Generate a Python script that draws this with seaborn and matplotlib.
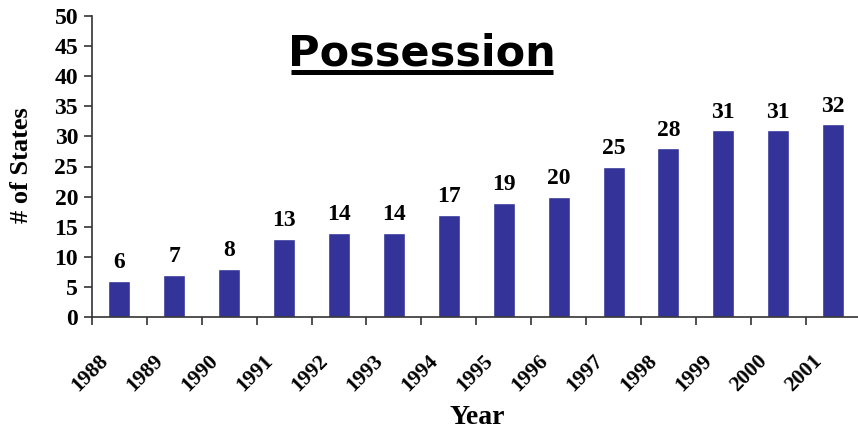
import matplotlib
matplotlib.use("Agg")
import matplotlib.pyplot as plt
import seaborn as sns
import pandas as pd
import numpy as np

years = ["1988", "1989", "1990", "1991", "1992", "1993", "1994",
         "1995", "1996", "1997", "1998", "1999", "2000", "2001"]
states = [6, 7, 8, 13, 14, 14, 17, 19, 20, 25, 28, 31, 31, 32]
yticks = [0, 5, 10, 15, 20, 25, 30, 35, 40, 45, 50]

sns.set_style("white")
plt.rcParams['font.family'] = ['Liberation Serif', 'DejaVu Serif']
plt.rcParams['text.color'] = 'black'
plt.rcParams['axes.labelcolor'] = 'black'
plt.rcParams['xtick.color'] = 'black'
plt.rcParams['ytick.color'] = 'black'

df = pd.DataFrame({"Year": years, "States": states})

fig = plt.figure(figsize=(8.58, 4.34), dpi=100)

ax = fig.add_axes([92/858, 1 - 317/434, (858-92)/858, (317-16)/434])

sns.barplot(data=df, x="Year", y="States", color="#333399", saturation=1,
            width=0.4, ax=ax)

ax.set_ylim(0, 50)
ax.set_xlim(-0.5, -0.5 + (858 - 92) / 54.9)
ax.set_yticks(yticks)
ax.set_yticklabels([str(v) for v in yticks], fontsize=17, fontweight='bold')
ax.tick_params(axis='y', direction='out', length=6, width=1.2, color='#333333', pad=4, left=True)

n = len(years)
ax.set_xticks(np.arange(n) - 0.5)
ax.set_xticklabels([])
ax.tick_params(axis='x', direction='out', length=6, width=1.2, color='#333333', bottom=True)
for i, yr in enumerate(years):
    ax.text(i - 0.38, -5.6, yr, rotation=45, ha='right', va='top',
            rotation_mode='anchor', fontsize=15.5, fontweight='bold')

for i, v in enumerate(states):
    ax.text(i, v + 1.3, str(v), ha='center', va='bottom', fontsize=17, fontweight='bold')

for s in ['top', 'right']:
    ax.spines[s].set_visible(False)
for s in ['left', 'bottom']:
    ax.spines[s].set_color('#333333')
    ax.spines[s].set_linewidth(1.2)

ax.set_xlabel("")
ax.set_ylabel("")
fig.text(22/858, 1 - 165/434, "# of States", rotation=90, ha='center', va='center',
         fontsize=19, fontweight='bold')
fig.text(477/858, 1 - 418/434, "Year", ha='center', va='center',
         fontsize=20, fontweight='bold')

fig.text(422/858, 1 - 65/434, "Possession", ha='center', va='baseline',
         fontsize=31, fontweight='bold', family='DejaVu Sans')
fig.add_artist(plt.Line2D([291/858, 553/858], [1 - 71.5/434, 1 - 71.5/434],
                          color='black', linewidth=3.6, solid_capstyle='butt',
                          transform=fig.transFigure))

fig.savefig("out.png", dpi=100)
